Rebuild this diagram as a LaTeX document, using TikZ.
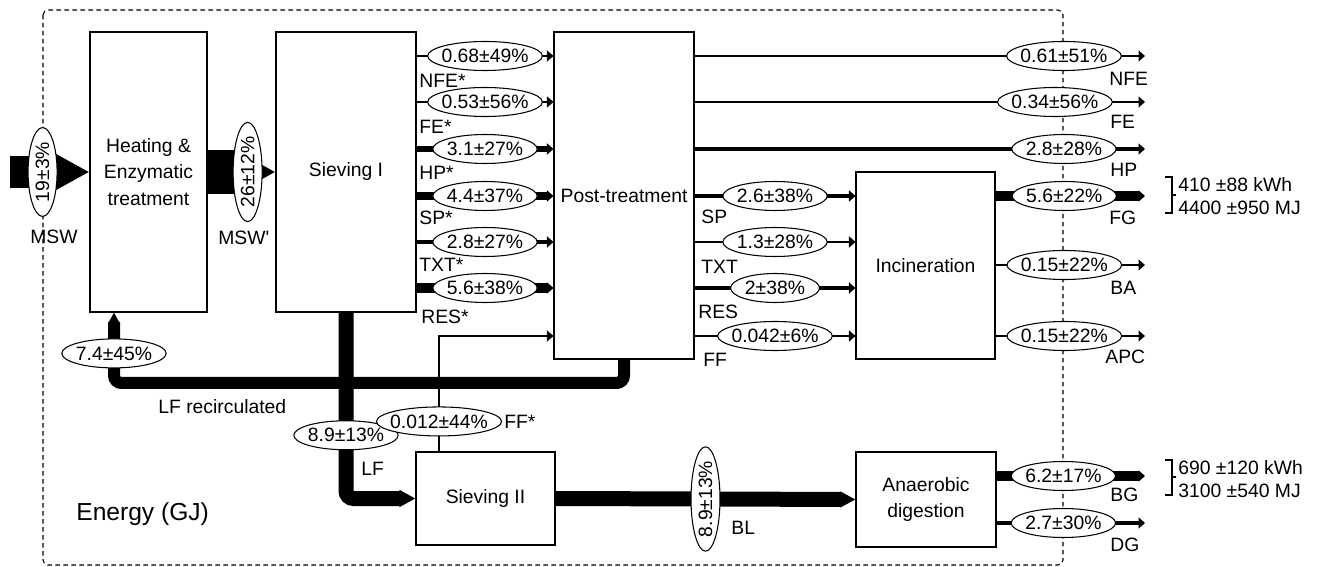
\documentclass[tikz,border=0pt]{standalone}
\usepackage{fontspec}
\setmainfont{Liberation Sans}
\usetikzlibrary{arrows.meta,shapes.geometric}

\newcommand{\pct}[1]{\makebox[0.68\width]{#1}}

\begin{document}
\begin{tikzpicture}[x=0.2mm, y=-0.2mm, font=\fontsize{11pt}{15pt}\selectfont,
  box/.style={draw, inner sep=0pt, align=center, line width=0.6pt},
  val/.style={ellipse, draw, fill=white, inner xsep=2.2mm, inner ysep=0pt, minimum height=5.8mm, line width=0.6pt},
  lab/.style={anchor=west, inner sep=0pt},
  flow/.style={line width=#1, -{Triangle[length=1.3mm, width'=0.9mm 1]}},
  flow/.default=0.25mm,
  band/.style={line width=#1, rounded corners=1.5mm},
  bhead/.style={-{Triangle[length=#1, width'=0pt 1]}},
  frame/.style={dash pattern=on 0.9mm off 0.7mm, line width=0.6pt, rounded corners=1mm}]
\useasboundingbox (0,0) rectangle (1317,567);

\draw[frame] (43,10) rectangle (1063,565);

\node[box, minimum width=23.4mm, minimum height=56mm] (heat) at (148.5,172) {Heating \&\\Enzymatic\\treatment};
\node[box, minimum width=28mm, minimum height=56mm] (sieve1) at (346,172) {Sieving I};
\node[box, minimum width=28mm, minimum height=65.4mm] (post) at (624,195.5) {Post-treatment};
\node[box, minimum width=27.8mm, minimum height=37.4mm] (incin) at (925.5,265.5) {Incineration};
\node[box, minimum width=27.8mm, minimum height=18.6mm] (sieve2) at (485.5,498.5) {Sieving II};
\node[box, minimum width=28mm, minimum height=19mm] (anaer) at (926,499.5) {Anaerobic\\digestion};

\coordinate (msw) at (10,172);
\coordinate (rc) at (114,383);
\coordinate (ff) at (439,336);
\coordinate (onfe) at (1145,56);
\coordinate (ofe) at (1145,102);
\coordinate (ohp) at (1145,149);
\coordinate (ofg) at (1145,196);
\coordinate (oba) at (1145,265);
\coordinate (oapc) at (1145,336);
\coordinate (obg) at (1145,476);
\coordinate (odg) at (1145,523);

% input and recirculation
\draw[band=6.4mm, bhead=7mm] (msw) -- node[val, rotate=90, pos=0.41] (vmsw) {\pct{19±3\%}} (msw -| heat.west);
\draw[band=8.8mm, bhead=5.6mm] (heat.east) -- node[val, rotate=90, pos=0.59] (vmsw2) {\pct{26±12\%}} (sieve1.west);
\draw[band=2.4mm, bhead=2mm] (post.south) |- (rc) -- node[val, pos=0.42] (vrec) {\pct{7.4±45\%}} (rc |- heat.south);
\draw[band=3mm, bhead=3.2mm] (sieve1.south) |- node[val, pos=0.33] (vlf) {\pct{8.9±13\%}} (sieve2.west);
\draw[flow] (ff |- sieve2.north) -- node[val, pos=0.26] (vff1) {\pct{0.012±44\%}} (ff) -- (ff -| post.west);
\draw[band=3mm, bhead=3mm] (sieve2.east) -- node[val, rotate=90] (vbl) {\pct{8.9±13\%}} (anaer.west);

% Sieving I to Post-treatment
\draw[flow] (sieve1.east |- 0,56) -- node[val] (vnfe1) {\pct{0.68±49\%}} (post.west |- 0,56);
\draw[flow] (sieve1.east |- 0,102) -- node[val] (vfe1) {\pct{0.53±56\%}} (post.west |- 0,102);
\draw[flow=1.05mm] (sieve1.east |- 0,149) -- node[val] (vhp1) {\pct{3.1±27\%}} (post.west |- 0,149);
\draw[flow=1.5mm] (sieve1.east |- 0,196) -- node[val] (vsp1) {\pct{4.4±37\%}} (post.west |- 0,196);
\draw[flow=0.95mm] (sieve1.east |- 0,242) -- node[val] (vtxt1) {\pct{2.8±27\%}} (post.west |- 0,242);
\draw[flow=1.9mm] (sieve1.east |- 0,288) -- node[val] (vres1) {\pct{5.6±38\%}} (post.west |- 0,288);

% Post-treatment to Incineration
\draw[flow=0.88mm] (post.east |- 0,196) -- node[val] (vsp2) {\pct{2.6±38\%}} (incin.west |- 0,196);
\draw[flow=0.44mm] (post.east |- 0,242) -- node[val] (vtxt2) {\pct{1.3±28\%}} (incin.west |- 0,242);
\draw[flow=0.68mm] (post.east |- 0,288) -- node[val] (vres2) {\pct{2±38\%}} (incin.west |- 0,288);
\draw[flow] (post.east |- 0,336) -- node[val] (vff2) {\pct{0.042±6\%}} (incin.west |- 0,336);

% outputs
\draw[flow] (post.east |- onfe) -- node[val, pos=0.82] (vnfe) {\pct{0.61±51\%}} (onfe);
\draw[flow] (post.east |- ofe) -- node[val, pos=0.80] (vfe) {\pct{0.34±56\%}} (ofe);
\draw[flow=0.95mm] (post.east |- ohp) -- node[val, pos=0.82] (vhp) {\pct{2.8±28\%}} (ohp);
\draw[flow=1.9mm] (incin.east |- ofg) -- node[val, pos=0.46] (vfg) {\pct{5.6±22\%}} (ofg);
\draw[flow] (incin.east |- oba) -- node[val, pos=0.46] (vba) {\pct{0.15±22\%}} (oba);
\draw[flow] (incin.east |- oapc) -- node[val, pos=0.46] (vapc) {\pct{0.15±22\%}} (oapc);
\draw[flow=2.1mm] (anaer.east |- obg) -- node[val, pos=0.45] (vbg) {\pct{6.2±17\%}} (obg);
\draw[flow=0.92mm] (anaer.east |- odg) -- node[val, pos=0.45] (vdg) {\pct{2.7±30\%}} (odg);

% stream names
\node[lab] (tmsw) at (30,237) {MSW};
\node[lab] (tmsw2) at (218,238) {MSW\textquotesingle};
\node[lab] (tnfe1) at (419,81) {NFE*};
\node[lab] (tfe1) at (419,127) {FE*};
\node[lab] (thp1) at (419,173) {HP*};
\node[lab] (tsp1) at (419,218) {SP*};
\node[lab] (ttxt1) at (419,265) {TXT*};
\node[lab] (tres1) at (421,317) {RES*};
\node[lab] (tsp2) at (701,217) {SP};
\node[lab] (ttxt2) at (701,267) {TXT};
\node[lab] (tres2) at (698,312) {RES};
\node[lab] (tff2) at (703,360) {FF};
\node[lab] (tnfe) at (1109,79) {NFE};
\node[lab] (tfe) at (1110,122) {FE};
\node[lab] (thp) at (1110,170) {HP};
\node[lab] (tfg) at (1109,218) {FG};
\node[lab] (tba) at (1110,288) {BA};
\node[lab] (tapc) at (1105,357) {APC};
\node[lab] (tbg) at (1110,495) {BG};
\node[lab] (tdg) at (1110,545) {DG};
\node[lab] (trec) at (158,407) {LF recirculated};
\node[lab] (tlf) at (361,469) {LF};
\node[lab] (tff1) at (504,422) {FF*};
\node[lab] (tbl) at (731,528) {BL};
\node[lab, font=\fontsize{14pt}{16pt}\selectfont] (tenergy) at (76,514) {Energy (GJ)};

% energy of the gases
\draw[line width=0.6pt] (1165,177) -- (1172,177) -- (1172,213) -- (1165,213) (1172,195) -- (1176,195);
\node[lab, align=left, font=\fontsize{11pt}{13pt}\selectfont] (efg) at (1178,196.5) {410 ±88 kWh\\4400 ±950 MJ};
\draw[line width=0.6pt] (1165,460) -- (1172,460) -- (1172,495) -- (1165,495) (1172,477) -- (1176,477);
\node[lab, align=left, font=\fontsize{11pt}{13pt}\selectfont] (ebg) at (1178,479) {690 ±120 kWh\\3100 ±540 MJ};
\end{tikzpicture}
\end{document}
